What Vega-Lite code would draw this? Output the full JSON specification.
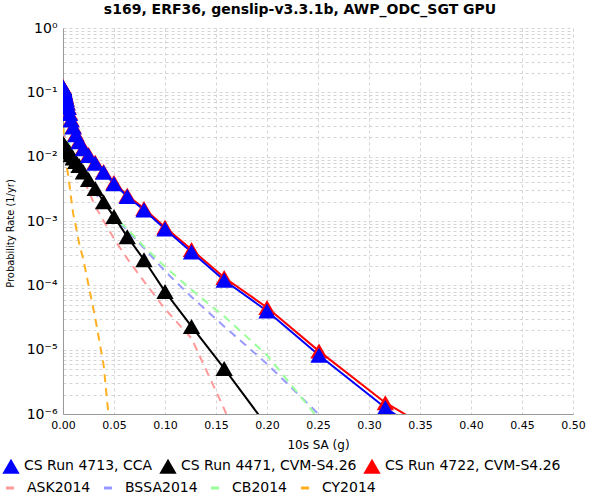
{
  "$schema": "https://vega.github.io/schema/vega-lite/v6.json",
  "width": 510,
  "height": 386,
  "autosize": {"type": "none"},
  "padding": {"left": 63, "top": 28, "right": 27, "bottom": 86},
  "config": {"view": {"stroke": null}, "font": "DejaVu Sans"},
  "title": {"text": "s169, ERF36, genslip-v3.3.1b, AWP_ODC_SGT GPU", "font": "DejaVu Sans", "fontSize": 14, "fontWeight": "bold", "color": "#000000", "anchor": "middle", "frame": "group", "dx": -18, "offset": 4},
  "datasets": {
    "gmpe": [
      {"m": "ASK2014", "x": 0.0001, "y": 0.026},
      {"m": "ASK2014", "x": 0.001, "y": 0.022},
      {"m": "ASK2014", "x": 0.002, "y": 0.02},
      {"m": "ASK2014", "x": 0.005, "y": 0.015},
      {"m": "ASK2014", "x": 0.0079, "y": 0.012},
      {"m": "ASK2014", "x": 0.01, "y": 0.0105},
      {"m": "ASK2014", "x": 0.0126, "y": 0.0085},
      {"m": "ASK2014", "x": 0.0158, "y": 0.0066},
      {"m": "ASK2014", "x": 0.02, "y": 0.0047},
      {"m": "ASK2014", "x": 0.0251, "y": 0.0029},
      {"m": "ASK2014", "x": 0.0316, "y": 0.0017},
      {"m": "ASK2014", "x": 0.0398, "y": 0.001},
      {"m": "ASK2014", "x": 0.05, "y": 0.00053},
      {"m": "ASK2014", "x": 0.063, "y": 0.00026},
      {"m": "ASK2014", "x": 0.0794, "y": 0.000115},
      {"m": "ASK2014", "x": 0.1, "y": 0.000043},
      {"m": "ASK2014", "x": 0.126, "y": 0.000015},
      {"m": "ASK2014", "x": 0.158, "y": 0.0000012},
      {"m": "ASK2014", "x": 0.2, "y": 0.00000003},
      {"m": "BSSA2014", "x": 0.0001, "y": 0.028},
      {"m": "BSSA2014", "x": 0.001, "y": 0.024},
      {"m": "BSSA2014", "x": 0.002, "y": 0.021},
      {"m": "BSSA2014", "x": 0.005, "y": 0.016},
      {"m": "BSSA2014", "x": 0.0079, "y": 0.0125},
      {"m": "BSSA2014", "x": 0.01, "y": 0.0105},
      {"m": "BSSA2014", "x": 0.0126, "y": 0.0085},
      {"m": "BSSA2014", "x": 0.0158, "y": 0.0068},
      {"m": "BSSA2014", "x": 0.02, "y": 0.0052},
      {"m": "BSSA2014", "x": 0.0251, "y": 0.0038},
      {"m": "BSSA2014", "x": 0.0316, "y": 0.0027},
      {"m": "BSSA2014", "x": 0.0398, "y": 0.0018},
      {"m": "BSSA2014", "x": 0.05, "y": 0.0012},
      {"m": "BSSA2014", "x": 0.063, "y": 0.00071},
      {"m": "BSSA2014", "x": 0.0794, "y": 0.00038},
      {"m": "BSSA2014", "x": 0.1, "y": 0.000166},
      {"m": "BSSA2014", "x": 0.126, "y": 0.000066},
      {"m": "BSSA2014", "x": 0.158, "y": 0.000023},
      {"m": "BSSA2014", "x": 0.2, "y": 0.000006},
      {"m": "BSSA2014", "x": 0.251, "y": 0.00000098},
      {"m": "BSSA2014", "x": 0.316, "y": 0.00000008},
      {"m": "CB2014", "x": 0.0001, "y": 0.029},
      {"m": "CB2014", "x": 0.001, "y": 0.025},
      {"m": "CB2014", "x": 0.002, "y": 0.022},
      {"m": "CB2014", "x": 0.005, "y": 0.017},
      {"m": "CB2014", "x": 0.0079, "y": 0.013},
      {"m": "CB2014", "x": 0.01, "y": 0.011},
      {"m": "CB2014", "x": 0.0126, "y": 0.009},
      {"m": "CB2014", "x": 0.0158, "y": 0.0071},
      {"m": "CB2014", "x": 0.02, "y": 0.0054},
      {"m": "CB2014", "x": 0.0251, "y": 0.004},
      {"m": "CB2014", "x": 0.0316, "y": 0.0029},
      {"m": "CB2014", "x": 0.0398, "y": 0.0019},
      {"m": "CB2014", "x": 0.05, "y": 0.0012},
      {"m": "CB2014", "x": 0.063, "y": 0.00075},
      {"m": "CB2014", "x": 0.0794, "y": 0.0004},
      {"m": "CB2014", "x": 0.1, "y": 0.000195},
      {"m": "CB2014", "x": 0.126, "y": 0.000085},
      {"m": "CB2014", "x": 0.158, "y": 0.000033},
      {"m": "CB2014", "x": 0.2, "y": 0.0000082},
      {"m": "CB2014", "x": 0.251, "y": 0.00000083},
      {"m": "CB2014", "x": 0.316, "y": 0.00000003},
      {"m": "CY2014", "x": 0.0001, "y": 0.03},
      {"m": "CY2014", "x": 0.0002, "y": 0.028},
      {"m": "CY2014", "x": 0.0005, "y": 0.022},
      {"m": "CY2014", "x": 0.001, "y": 0.016},
      {"m": "CY2014", "x": 0.00158, "y": 0.013},
      {"m": "CY2014", "x": 0.002, "y": 0.011},
      {"m": "CY2014", "x": 0.00251, "y": 0.0095},
      {"m": "CY2014", "x": 0.00316, "y": 0.008},
      {"m": "CY2014", "x": 0.00398, "y": 0.0066},
      {"m": "CY2014", "x": 0.005, "y": 0.0052},
      {"m": "CY2014", "x": 0.0063, "y": 0.0037},
      {"m": "CY2014", "x": 0.0079, "y": 0.0023},
      {"m": "CY2014", "x": 0.01, "y": 0.0013},
      {"m": "CY2014", "x": 0.0126, "y": 0.00083},
      {"m": "CY2014", "x": 0.0158, "y": 0.00045},
      {"m": "CY2014", "x": 0.02, "y": 0.00025},
      {"m": "CY2014", "x": 0.0251, "y": 0.0001},
      {"m": "CY2014", "x": 0.0316, "y": 0.000031},
      {"m": "CY2014", "x": 0.0398, "y": 0.0000058},
      {"m": "CY2014", "x": 0.05, "y": 0.00000013}
    ],
    "cs": [
      {"run": "CS Run 4722, CVM-S4.26", "x": 0.0001, "y": 0.122},
      {"run": "CS Run 4722, CVM-S4.26", "x": 0.000126, "y": 0.121},
      {"run": "CS Run 4722, CVM-S4.26", "x": 0.000158, "y": 0.12},
      {"run": "CS Run 4722, CVM-S4.26", "x": 0.0002, "y": 0.119},
      {"run": "CS Run 4722, CVM-S4.26", "x": 0.000251, "y": 0.118},
      {"run": "CS Run 4722, CVM-S4.26", "x": 0.000316, "y": 0.117},
      {"run": "CS Run 4722, CVM-S4.26", "x": 0.000398, "y": 0.115},
      {"run": "CS Run 4722, CVM-S4.26", "x": 0.0005, "y": 0.113},
      {"run": "CS Run 4722, CVM-S4.26", "x": 0.00063, "y": 0.111},
      {"run": "CS Run 4722, CVM-S4.26", "x": 0.00079, "y": 0.108},
      {"run": "CS Run 4722, CVM-S4.26", "x": 0.001, "y": 0.105},
      {"run": "CS Run 4722, CVM-S4.26", "x": 0.00126, "y": 0.101},
      {"run": "CS Run 4722, CVM-S4.26", "x": 0.00158, "y": 0.097},
      {"run": "CS Run 4722, CVM-S4.26", "x": 0.002, "y": 0.092},
      {"run": "CS Run 4722, CVM-S4.26", "x": 0.00251, "y": 0.086},
      {"run": "CS Run 4722, CVM-S4.26", "x": 0.00316, "y": 0.079},
      {"run": "CS Run 4722, CVM-S4.26", "x": 0.00398, "y": 0.069},
      {"run": "CS Run 4722, CVM-S4.26", "x": 0.005, "y": 0.059},
      {"run": "CS Run 4722, CVM-S4.26", "x": 0.0063, "y": 0.048},
      {"run": "CS Run 4722, CVM-S4.26", "x": 0.0079, "y": 0.038},
      {"run": "CS Run 4722, CVM-S4.26", "x": 0.01, "y": 0.0296},
      {"run": "CS Run 4722, CVM-S4.26", "x": 0.0126, "y": 0.0227},
      {"run": "CS Run 4722, CVM-S4.26", "x": 0.0158, "y": 0.0176},
      {"run": "CS Run 4722, CVM-S4.26", "x": 0.02, "y": 0.0138},
      {"run": "CS Run 4722, CVM-S4.26", "x": 0.0251, "y": 0.0108},
      {"run": "CS Run 4722, CVM-S4.26", "x": 0.0316, "y": 0.0082},
      {"run": "CS Run 4722, CVM-S4.26", "x": 0.0398, "y": 0.0059},
      {"run": "CS Run 4722, CVM-S4.26", "x": 0.05, "y": 0.00395},
      {"run": "CS Run 4722, CVM-S4.26", "x": 0.063, "y": 0.00252},
      {"run": "CS Run 4722, CVM-S4.26", "x": 0.0794, "y": 0.00157},
      {"run": "CS Run 4722, CVM-S4.26", "x": 0.1, "y": 0.0008},
      {"run": "CS Run 4722, CVM-S4.26", "x": 0.126, "y": 0.00036},
      {"run": "CS Run 4722, CVM-S4.26", "x": 0.158, "y": 0.000132},
      {"run": "CS Run 4722, CVM-S4.26", "x": 0.2, "y": 0.0000452},
      {"run": "CS Run 4722, CVM-S4.26", "x": 0.251, "y": 0.0000095},
      {"run": "CS Run 4722, CVM-S4.26", "x": 0.316, "y": 0.0000015},
      {"run": "CS Run 4722, CVM-S4.26", "x": 0.398, "y": 0.00000026},
      {"run": "CS Run 4722, CVM-S4.26", "x": 0.501, "y": 0.00000002},
      {"run": "CS Run 4471, CVM-S4.26", "x": 0.0001, "y": 0.0158},
      {"run": "CS Run 4471, CVM-S4.26", "x": 0.000126, "y": 0.0157},
      {"run": "CS Run 4471, CVM-S4.26", "x": 0.000158, "y": 0.0157},
      {"run": "CS Run 4471, CVM-S4.26", "x": 0.0002, "y": 0.0156},
      {"run": "CS Run 4471, CVM-S4.26", "x": 0.000251, "y": 0.0156},
      {"run": "CS Run 4471, CVM-S4.26", "x": 0.000316, "y": 0.0155},
      {"run": "CS Run 4471, CVM-S4.26", "x": 0.000398, "y": 0.0155},
      {"run": "CS Run 4471, CVM-S4.26", "x": 0.0005, "y": 0.0154},
      {"run": "CS Run 4471, CVM-S4.26", "x": 0.00063, "y": 0.0153},
      {"run": "CS Run 4471, CVM-S4.26", "x": 0.00079, "y": 0.0152},
      {"run": "CS Run 4471, CVM-S4.26", "x": 0.001, "y": 0.015},
      {"run": "CS Run 4471, CVM-S4.26", "x": 0.00126, "y": 0.0148},
      {"run": "CS Run 4471, CVM-S4.26", "x": 0.00158, "y": 0.0146},
      {"run": "CS Run 4471, CVM-S4.26", "x": 0.002, "y": 0.0143},
      {"run": "CS Run 4471, CVM-S4.26", "x": 0.00251, "y": 0.014},
      {"run": "CS Run 4471, CVM-S4.26", "x": 0.00316, "y": 0.0136},
      {"run": "CS Run 4471, CVM-S4.26", "x": 0.00398, "y": 0.0131},
      {"run": "CS Run 4471, CVM-S4.26", "x": 0.005, "y": 0.0125},
      {"run": "CS Run 4471, CVM-S4.26", "x": 0.0063, "y": 0.0118},
      {"run": "CS Run 4471, CVM-S4.26", "x": 0.0079, "y": 0.0107},
      {"run": "CS Run 4471, CVM-S4.26", "x": 0.01, "y": 0.0095},
      {"run": "CS Run 4471, CVM-S4.26", "x": 0.0126, "y": 0.0084},
      {"run": "CS Run 4471, CVM-S4.26", "x": 0.0158, "y": 0.0073},
      {"run": "CS Run 4471, CVM-S4.26", "x": 0.02, "y": 0.0058},
      {"run": "CS Run 4471, CVM-S4.26", "x": 0.0251, "y": 0.0044},
      {"run": "CS Run 4471, CVM-S4.26", "x": 0.0316, "y": 0.0032},
      {"run": "CS Run 4471, CVM-S4.26", "x": 0.0398, "y": 0.002},
      {"run": "CS Run 4471, CVM-S4.26", "x": 0.05, "y": 0.00117},
      {"run": "CS Run 4471, CVM-S4.26", "x": 0.063, "y": 0.00057},
      {"run": "CS Run 4471, CVM-S4.26", "x": 0.0794, "y": 0.00025},
      {"run": "CS Run 4471, CVM-S4.26", "x": 0.1, "y": 0.00008},
      {"run": "CS Run 4471, CVM-S4.26", "x": 0.126, "y": 0.000023},
      {"run": "CS Run 4471, CVM-S4.26", "x": 0.158, "y": 0.0000051},
      {"run": "CS Run 4471, CVM-S4.26", "x": 0.2, "y": 0.00000065},
      {"run": "CS Run 4471, CVM-S4.26", "x": 0.251, "y": 0.00000004},
      {"run": "CS Run 4713, CCA", "x": 0.0001, "y": 0.12},
      {"run": "CS Run 4713, CCA", "x": 0.000126, "y": 0.119},
      {"run": "CS Run 4713, CCA", "x": 0.000158, "y": 0.118},
      {"run": "CS Run 4713, CCA", "x": 0.0002, "y": 0.117},
      {"run": "CS Run 4713, CCA", "x": 0.000251, "y": 0.116},
      {"run": "CS Run 4713, CCA", "x": 0.000316, "y": 0.115},
      {"run": "CS Run 4713, CCA", "x": 0.000398, "y": 0.113},
      {"run": "CS Run 4713, CCA", "x": 0.0005, "y": 0.111},
      {"run": "CS Run 4713, CCA", "x": 0.00063, "y": 0.109},
      {"run": "CS Run 4713, CCA", "x": 0.00079, "y": 0.106},
      {"run": "CS Run 4713, CCA", "x": 0.001, "y": 0.103},
      {"run": "CS Run 4713, CCA", "x": 0.00126, "y": 0.099},
      {"run": "CS Run 4713, CCA", "x": 0.00158, "y": 0.095},
      {"run": "CS Run 4713, CCA", "x": 0.002, "y": 0.09},
      {"run": "CS Run 4713, CCA", "x": 0.00251, "y": 0.084},
      {"run": "CS Run 4713, CCA", "x": 0.00316, "y": 0.077},
      {"run": "CS Run 4713, CCA", "x": 0.00398, "y": 0.068},
      {"run": "CS Run 4713, CCA", "x": 0.005, "y": 0.058},
      {"run": "CS Run 4713, CCA", "x": 0.0063, "y": 0.047},
      {"run": "CS Run 4713, CCA", "x": 0.0079, "y": 0.037},
      {"run": "CS Run 4713, CCA", "x": 0.01, "y": 0.029},
      {"run": "CS Run 4713, CCA", "x": 0.0126, "y": 0.022},
      {"run": "CS Run 4713, CCA", "x": 0.0158, "y": 0.017},
      {"run": "CS Run 4713, CCA", "x": 0.02, "y": 0.0133},
      {"run": "CS Run 4713, CCA", "x": 0.0251, "y": 0.0104},
      {"run": "CS Run 4713, CCA", "x": 0.0316, "y": 0.0079},
      {"run": "CS Run 4713, CCA", "x": 0.0398, "y": 0.0057},
      {"run": "CS Run 4713, CCA", "x": 0.05, "y": 0.0038},
      {"run": "CS Run 4713, CCA", "x": 0.063, "y": 0.0024},
      {"run": "CS Run 4713, CCA", "x": 0.0794, "y": 0.00148},
      {"run": "CS Run 4713, CCA", "x": 0.1, "y": 0.00075},
      {"run": "CS Run 4713, CCA", "x": 0.126, "y": 0.00033},
      {"run": "CS Run 4713, CCA", "x": 0.158, "y": 0.00012},
      {"run": "CS Run 4713, CCA", "x": 0.2, "y": 0.00004},
      {"run": "CS Run 4713, CCA", "x": 0.251, "y": 0.0000082},
      {"run": "CS Run 4713, CCA", "x": 0.316, "y": 0.00000125},
      {"run": "CS Run 4713, CCA", "x": 0.398, "y": 0.00000017},
      {"run": "CS Run 4713, CCA", "x": 0.501, "y": 0.00000001}
    ]
  },
  "encoding": {
    "x": {
      "field": "x", "type": "quantitative",
      "scale": {"domain": [0, 0.5], "nice": false, "zero": false},
      "axis": {
        "title": "10s SA (g)", "titleFont": "DejaVu Sans", "titleFontSize": 12, "titleFontWeight": "normal", "titleColor": "#000000", "titlePadding": 9,
        "values": [0, 0.05, 0.1, 0.15, 0.2, 0.25, 0.3, 0.35, 0.4, 0.45, 0.5],
        "format": ".2f", "labelFont": "DejaVu Sans", "labelFontSize": 11, "labelColor": "#000000", "labelPadding": 5, "labelFlush": false, "labelOverlap": false, "labelBound": false,
        "ticks": false, "tickSize": 0, "domainColor": "#999999", "domainWidth": 1,
        "grid": true, "gridColor": "#d4d4d4", "gridDash": [3, 3], "gridWidth": 1
      }
    },
    "y": {
      "field": "y", "type": "quantitative",
      "scale": {"type": "log", "domain": [0.000001, 1], "nice": false},
      "axis": {
        "title": "Probability Rate (1/yr)", "titleFont": "DejaVu Sans Condensed, DejaVu Sans", "titleFontSize": 11, "titleFontWeight": "normal", "titleColor": "#000000", "titleAngle": -90, "titleX": -53, "titleY": 205, "titleAlign": "center", "titleBaseline": "middle",
        "values": [1, 0.9, 0.8, 0.7, 0.6, 0.5, 0.4, 0.3, 0.2, 0.1, 0.09, 0.08, 0.07, 0.06, 0.05, 0.04, 0.03, 0.02, 0.01, 0.009, 0.008, 0.007, 0.006, 0.005, 0.004, 0.003, 0.002, 0.001, 0.0009, 0.0008, 0.0007, 0.0006, 0.0005, 0.0004, 0.0003, 0.0002, 0.0001, 0.00009, 0.00008, 0.00007, 0.00006, 0.00005, 0.00004, 0.00003, 0.00002, 0.00001, 0.000009, 0.000008, 0.000007, 0.000006, 0.000005, 0.000004, 0.000003, 0.000002, 0.000001],
        "labelExpr": "abs(log(datum.value)/LN10 - round(log(datum.value)/LN10)) < 0.001 ? ['10⁰','10⁻¹','10⁻²','10⁻³','10⁻⁴','10⁻⁵','10⁻⁶'][abs(round(log(datum.value)/LN10))] : ''",
        "labelFont": "DejaVu Sans", "labelFontSize": 14, "labelColor": "#000000", "labelPadding": 6, "labelFlush": false, "labelOverlap": false, "labelBound": false,
        "ticks": false, "tickSize": 0, "domainColor": "#999999", "domainWidth": 1,
        "grid": true, "gridColor": "#d4d4d4", "gridDash": [3, 3], "gridWidth": 1
      }
    }
  },
  "layer": [
    {
      "data": {"name": "gmpe"},
      "mark": {"type": "line", "clip": true, "strokeDash": [8, 6], "strokeWidth": 2},
      "encoding": {
        "color": {
          "field": "m", "type": "nominal",
          "scale": {"domain": ["ASK2014", "BSSA2014", "CB2014", "CY2014"], "range": ["#ff9999", "#9999ff", "#99ff99", "#ffb020"]},
          "legend": {"orient": "none", "legendX": -60, "legendY": 453, "direction": "horizontal", "title": null, "symbolType": "stroke", "symbolSize": 64, "symbolStrokeWidth": 3, "symbolDash": [], "labelFont": "DejaVu Sans", "labelFontSize": 14, "labelColor": "#000000", "labelLimit": 0, "labelOffset": 10, "columnPadding": 7, "padding": 0}
        }
      }
    },
    {
      "data": {"name": "cs"},
      "layer": [
        {
          "mark": {"type": "line", "clip": true, "strokeWidth": 2},
          "encoding": {
            "color": {"field": "run", "type": "nominal", "scale": {"domain": ["CS Run 4713, CCA", "CS Run 4471, CVM-S4.26", "CS Run 4722, CVM-S4.26"], "range": ["#0000ff", "#000000", "#ff0000"]},
              "legend": {"orient": "none", "legendX": -61, "legendY": 429, "direction": "horizontal", "title": null, "symbolType": "triangle-up", "symbolSize": 300, "symbolOpacity": 1, "symbolStrokeWidth": 0, "labelFont": "DejaVu Sans", "labelFontSize": 14, "labelColor": "#000000", "labelLimit": 0, "labelOffset": 4, "columnPadding": 6, "padding": 0}}
          }
        },
        {
          "mark": {"type": "point", "clip": true, "shape": "triangle-up", "filled": true, "size": 300, "opacity": 1},
          "encoding": {
            "color": {"field": "run", "type": "nominal", "scale": {"domain": ["CS Run 4713, CCA", "CS Run 4471, CVM-S4.26", "CS Run 4722, CVM-S4.26"], "range": ["#0000ff", "#000000", "#ff0000"]},
              "legend": {"orient": "none", "legendX": -61, "legendY": 429, "direction": "horizontal", "title": null, "symbolType": "triangle-up", "symbolSize": 300, "symbolOpacity": 1, "symbolStrokeWidth": 0, "labelFont": "DejaVu Sans", "labelFontSize": 14, "labelColor": "#000000", "labelLimit": 0, "labelOffset": 4, "columnPadding": 6, "padding": 0}}
          }
        }
      ]
    }
  ],
  "resolve": {"scale": {"color": "independent"}}
}
